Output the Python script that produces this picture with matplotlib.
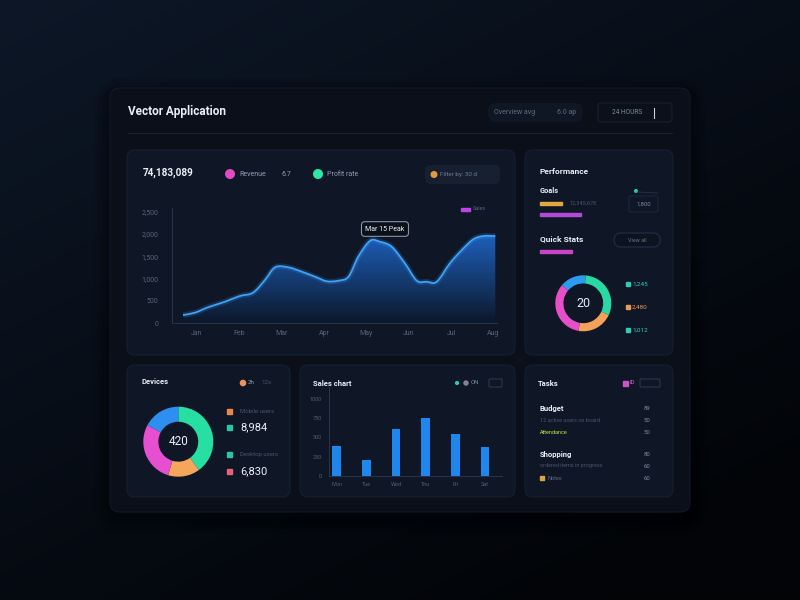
import numpy as np
import matplotlib
matplotlib.use("Agg")
import matplotlib.pyplot as plt
from matplotlib.patches import FancyBboxPatch, Rectangle, Circle, PathPatch
from matplotlib.path import Path

plt.rcParams['font.family'] = ['Roboto', 'DejaVu Sans']

# ---------------- data ----------------
area_x = [0.68, 0.96, 1.27, 1.67, 2.02, 2.33, 2.61, 2.85, 3.16, 3.48, 3.79, 4.07, 4.34,
          4.58, 4.81, 5.09, 5.32, 5.60, 5.91, 6.19, 6.42, 6.66, 6.97, 7.25, 7.52, 7.76, 8.04]
area_y = [186, 238, 359, 484, 612, 686, 971, 1256, 1256, 1157, 1045, 942, 955,
          1045, 1493, 1852, 1830, 1717, 1345, 955, 933, 933, 1345, 1643, 1883, 1957, 1957]
area_xticks = [1, 2, 3, 4, 5, 6, 7, 8]
area_xlabels = ['Jan', 'Feb', 'Mar', 'Apr', 'May', 'Jun', 'Jul', 'Aug']
area_yticks = [0, 500, 1000, 1500, 2000, 2500]
area_ylabels = ['0', '500', '1,000', '1,500', '2,000', '2,500']

bar_labels = ['Mon', 'Tue', 'Wed', 'Thu', 'Fri', 'Sat']
bar_values = [392, 207, 605, 755, 544, 380]
bar_yticks = [0, 250, 500, 750, 1000]

device_labels = ['Mobile', 'Tablet', 'Desktop', 'Other']
device_values = [144, 53, 101, 62]
device_colors = ['#27dfa2', '#f4a65a', '#e64fcf', '#2f8ff0']

stats_labels = ['A', 'B', 'C', 'D']
stats_values = [55, 110, 75, 120]
stats_colors = ['#2d9cf0', '#28d9a4', '#f4a259', '#e64fc8']

# ---------------- figure ----------------
W, H = 800, 600
fig = plt.figure(figsize=(8, 6), dpi=100)


def fr(x0, y0, x1, y1):
    return [x0 / W, 1 - y1 / H, (x1 - x0) / W, (y1 - y0) / H]


ov = fig.add_axes([0, 0, 1, 1])
ov.set_xlim(0, W)
ov.set_ylim(H, 0)
ov.axis('off')

# background gradient
yy, xx = np.mgrid[0:150, 0:200]
t = np.clip((0.55 * xx / 200 + 0.8 * yy / 150) / 1.2, 0, 1)
c1 = np.array([0x0d, 0x17, 0x27]) / 255
c2 = np.array([0x02, 0x04, 0x07]) / 255
img = c1[None, None, :] * (1 - t[..., None]) + c2[None, None, :] * t[..., None]
ov.imshow(img, extent=(0, W, H, 0), aspect='auto', zorder=0, interpolation='bilinear')

WHITE = '#e9eef6'
GREY = '#5d6b80'
DGREY = '#46536a'


def rbox(x0, y0, x1, y1, fc, ec='none', r=8, lw=0.8, z=2, alpha=1):
    p = FancyBboxPatch((x0, y0), x1 - x0, y1 - y0,
                       boxstyle=f'round,pad=0,rounding_size={r}',
                       fc=fc, ec=ec, lw=lw, zorder=z, alpha=alpha)
    ov.add_patch(p)
    return p


# panel shadow + panel
for i, a in enumerate([0.06, 0.08, 0.10, 0.12]):
    d = 16 - 4 * i
    rbox(110 - d, 88 - d + 6, 690 + d, 512 + d + 6, '#000000', r=12 + d, z=1, alpha=a)
rbox(110, 88, 690, 512, '#0a0f19', ec='#111927', r=10, z=1.5)

# header
ov.text(128, 112, 'Vector Application', color=WHITE, fontsize=8.5, fontweight='bold',
        va='center', ha='left', zorder=5)
ov.plot([128, 672], [133, 133], color='#19212f', lw=0.8, zorder=3)
rbox(488, 103, 583, 122, '#0f1624', r=8, z=3)
ov.text(494, 113, 'Overview avg', color=GREY, fontsize=5, va='center', zorder=5)
ov.text(557, 113, '6.0 ap', color=GREY, fontsize=5, va='center', zorder=5)
rbox(598, 103, 672, 122, '#0b111b', ec='#18202e', r=3, z=3)
ov.text(612, 113, '24 HOURS', color='#7d899b', fontsize=4.8, va='center', zorder=5)
ov.plot([654, 654], [108, 118], color='#c8d0dc', lw=0.8, zorder=5)

# cards
CARD = '#0f1727'
CEDGE = '#152031'
for (x0, y0, x1, y1) in [(127, 150, 515, 355), (525, 150, 673, 355), (127, 365, 290, 497),
                         (300, 365, 515, 497), (525, 365, 673, 497)]:
    rbox(x0, y0, x1, y1, CARD, ec=CEDGE, r=8, z=2)

# ---------------- card 1 : area chart ----------------
ov.text(143, 173, '74,183,089', color=WHITE, fontsize=7.2, fontweight='bold', va='center', zorder=5)
ov.add_patch(Circle((230, 174), 4.3, color='#e04ac2', zorder=5))
ov.text(239, 174, 'Revenue', color='#8f9bb0', fontsize=5, va='center', zorder=5)
ov.text(281, 174, '6.7', color='#8f9bb0', fontsize=5, va='center', zorder=5)
ov.add_patch(Circle((318, 174), 4.3, color='#2ee6a6', zorder=5))
ov.text(327, 174, 'Profit rate', color='#8f9bb0', fontsize=5, va='center', zorder=5)
rbox(425, 165, 500, 184, '#162031', r=5, z=3)
ov.add_patch(Circle((434, 174.5), 2.8, color='#e49a3c', zorder=5))
ov.text(440, 174.5, 'Filter by: 30 d', color='#6f7c90', fontsize=4.5, va='center', zorder=5)
ov.add_patch(Rectangle((461, 207.5), 9, 3, color='#c043e6', zorder=5))
ov.text(473, 209, 'Sales', color='#55627a', fontsize=4, va='center', zorder=5)

ax1 = fig.add_axes(fr(172, 208, 497, 323.3))
ax1.set_facecolor('none')
ax1.set_xlim(0.42, 8.08)
ax1.set_ylim(0, 2585)

# smooth path through the data points (Catmull-Rom rendered as cubic Bezier)
P = np.column_stack([area_x, area_y]).astype(float)
Pe = np.vstack([P[0], P, P[-1]])
verts = [tuple(P[0])]
codes = [Path.MOVETO]
for i in range(len(P) - 1):
    p0, p1, p2, p3 = Pe[i], Pe[i + 1], Pe[i + 2], Pe[i + 3]
    verts += [tuple(p1 + (p2 - p0) / 6), tuple(p2 - (p3 - p1) / 6), tuple(p2)]
    codes += [Path.CURVE4] * 3
line_path = Path(verts, codes)
fill_path = Path(verts + [(area_x[-1], 0), (area_x[0], 0), tuple(P[0])],
                 codes + [Path.LINETO, Path.LINETO, Path.CLOSEPOLY])
clip = PathPatch(fill_path, fc='none', ec='none', transform=ax1.transData)
ax1.add_patch(clip)
g = np.linspace(0, 1, 200)[:, None]
top = np.array([0x1e, 0x61, 0xbe]) / 255
bot = np.array([0x0c, 0x17, 0x2a]) / 255
grad = bot[None, None, :] * (1 - g[..., None]) + top[None, None, :] * g[..., None]
grad = np.repeat(grad, 2, axis=1)
im = ax1.imshow(grad, extent=(area_x[0], area_x[-1], 0, 2000), origin='lower',
                aspect='auto', zorder=1, interpolation='bilinear')
im.set_clip_path(clip)
ax1.add_patch(PathPatch(line_path, fc='none', ec='#3d9ff5', lw=4, alpha=0.18, zorder=2))
ax1.add_patch(PathPatch(line_path, fc='none', ec='#3fa2f6', lw=1.3, zorder=3))
ax1.set_xticks(area_xticks)
ax1.set_xticklabels(area_xlabels)
ax1.set_yticks(area_yticks)
ax1.set_yticklabels(area_ylabels)
ax1.tick_params(length=0, labelsize=5, colors='#56637a')
ax1.tick_params(axis='y', pad=10)
ax1.tick_params(axis='x', pad=5)
for s in ['top', 'right']:
    ax1.spines[s].set_visible(False)
for s in ['left', 'bottom']:
    ax1.spines[s].set_color('#27334a')
    ax1.spines[s].set_linewidth(0.8)
ax1.text(5.44, 2114, 'Mar 15 Peak', color=WHITE, fontsize=5, ha='center', va='center',
         zorder=6, bbox=dict(boxstyle='round,pad=0.55,rounding_size=0.5', fc='#0b111b',
                             ec='#8a94a6', lw=0.8))

# ---------------- card 2 : performance ----------------
ov.text(540, 172, 'Performance', color=WHITE, fontsize=6, fontweight='bold', va='center', zorder=5)
ov.text(540, 191, 'Goals', color=WHITE, fontsize=5.3, fontweight='bold', va='center', zorder=5)
ov.add_patch(Rectangle((540, 202), 22, 3, color='#e2aa3e', zorder=5))
ov.text(569, 203.5, '12,345,678', color=DGREY, fontsize=4, va='center', zorder=5)
ov.add_patch(Rectangle((540, 213), 41, 3, color='#b24ad8', zorder=5))
ov.add_patch(Circle((636, 191), 1.3, color='#2fc9b0', zorder=5))
ov.plot([637, 658], [192, 193], color='#26324a', lw=0.6, zorder=5)
rbox(629, 196, 658, 212, 'none', ec='#1d2738', r=2, z=4)
ov.text(643.5, 204, '1,800', color='#7d899b', fontsize=4.3, ha='center', va='center', zorder=5)
ov.text(540, 239, 'Quick Stats', color=WHITE, fontsize=6, fontweight='bold', va='center', zorder=5)
rbox(614, 233, 660, 247, '#0c1420', ec='#22304a', r=7, z=4)
ov.text(637, 240, 'View all', color='#5e6f8a', fontsize=4, ha='center', va='center', zorder=5)
ov.add_patch(Rectangle((540, 249.5), 32, 3, color='#c845c8', zorder=5))

ax2 = fig.add_axes(fr(583.3 - 28, 303.3 - 28, 583.3 + 28, 303.3 + 28))
ax2.pie(stats_values, colors=stats_colors, startangle=140, counterclock=False,
        wedgeprops=dict(width=0.29, edgecolor='none'))
ax2.set_xlim(-1, 1)
ax2.set_ylim(-1, 1)
ax2.set_aspect('equal')
ax2.axis('off')
ax2.text(0, 0, '20', color=WHITE, fontsize=9, ha='center', va='center')

for (yv, col, lab) in [(284, '#35c9b2', '1,245'), (307, '#e99a55', '2,480'), (330, '#35c9b2', '1,012')]:
    ov.add_patch(Rectangle((625.5, yv - 2), 4, 4, color=col, zorder=5))
    ov.text(632, yv, lab, color=col, fontsize=4.6, va='center', zorder=5)

# ---------------- card 3 : devices donut ----------------
ov.text(141, 382, 'Devices', color=WHITE, fontsize=5.5, fontweight='bold', va='center', zorder=5)
ov.add_patch(Circle((243, 383), 2.6, color='#f0905a', zorder=5))
ov.text(248, 383, '2h', color='#8f9bb0', fontsize=4.5, va='center', zorder=5)
ov.text(262, 383, '12s', color=DGREY, fontsize=4.5, va='center', zorder=5)

ax3 = fig.add_axes(fr(178.3 - 35, 441.7 - 35, 178.3 + 35, 441.7 + 35))
ax3.pie(device_values, colors=device_colors, startangle=90, counterclock=False,
        wedgeprops=dict(width=0.43, edgecolor='none'))
ax3.set_xlim(-1, 1)
ax3.set_ylim(-1, 1)
ax3.set_aspect('equal')
ax3.axis('off')
ax3.text(0, 0, '420', color=WHITE, fontsize=8.5, ha='center', va='center')

ov.add_patch(Rectangle((226.5, 409.2), 5, 5, color='#e8894a', zorder=5))
ov.text(240, 411.7, 'Mobile users', color=DGREY, fontsize=4.3, va='center', zorder=5)
ov.add_patch(Rectangle((226.5, 424.8), 5, 5, color='#2ec4a0', zorder=5))
ov.text(240, 427.5, '8,984', color=WHITE, fontsize=8, va='center', zorder=5)
ov.add_patch(Rectangle((226.5, 451.8), 5, 5, color='#2ec4a0', zorder=5))
ov.text(240, 454.3, 'Desktop users', color=DGREY, fontsize=4.3, va='center', zorder=5)
ov.add_patch(Rectangle((226.5, 468.5), 5, 5, color='#e8607e', zorder=5))
ov.text(240, 471.2, '6,830', color=WHITE, fontsize=8, va='center', zorder=5)

# ---------------- card 4 : bar chart ----------------
ov.text(313, 383, 'Sales chart', color=WHITE, fontsize=5.5, fontweight='bold', va='center', zorder=5)
ov.add_patch(Circle((457, 383), 1.4, color='#2fc9b0', zorder=5))
ov.add_patch(Circle((466, 383), 2.0, color='#8a7f99', zorder=5))
ov.text(471, 383, 'ON', color='#7d899b', fontsize=4.3, va='center', zorder=5)
rbox(489, 379, 502, 387, 'none', ec='#344055', r=1, z=4, lw=0.6)

ax4 = fig.add_axes(fr(329, 386.7, 501.7, 476))
ax4.set_facecolor('none')
xb = np.arange(len(bar_values))
ax4.bar(xb, bar_values, width=0.29, color='#1f86ee', zorder=3)
ax4.set_xlim(-0.26, 5.56)
ax4.set_ylim(0, 1157)
ax4.set_xticks(xb)
ax4.set_xticklabels(bar_labels)
ax4.set_yticks(bar_yticks)
ax4.tick_params(length=0, labelsize=4, colors='#4f5d72')
ax4.tick_params(axis='y', pad=5)
ax4.tick_params(axis='x', pad=4)
for s in ['top', 'right']:
    ax4.spines[s].set_visible(False)
for s in ['left', 'bottom']:
    ax4.spines[s].set_color('#27334a')
    ax4.spines[s].set_linewidth(0.8)

# ---------------- card 5 : tasks ----------------
ov.text(538, 383, 'Tasks', color=WHITE, fontsize=5.5, fontweight='bold', va='center', zorder=5)
ov.add_patch(Rectangle((623, 381), 4.5, 4.5, color='#d050c8', zorder=5))
ov.text(630, 383, 'ID', color='#c07ac0', fontsize=4.3, va='center', zorder=5)
rbox(640, 379, 660, 387, 'none', ec='#344055', r=1, z=4, lw=0.6)

rows = [
    (408.3, 'Budget', WHITE, 5.5, 'bold', '89'),
    (421.0, '12 active users on board', DGREY, 4, 'normal', '50'),
    (432.7, 'Attendance', '#c6df48', 4, 'normal', '50'),
    (454.3, 'Shopping', WHITE, 5.5, 'bold', '80'),
    (466.0, 'ordered items in progress', DGREY, 4, 'normal', '60'),
]
for (yv, lab, col, fs, fw, val) in rows:
    ov.text(540, yv, lab, color=col, fontsize=fs, fontweight=fw, va='center', zorder=5)
    ov.text(647, yv, val, color='#7d899b', fontsize=4.3, ha='center', va='center', zorder=5)
ov.add_patch(Rectangle((540, 476.3), 4, 4, color='#e0a040', zorder=5))
ov.text(547, 478.3, 'Notes', color=GREY, fontsize=4, va='center', zorder=5)
ov.text(647, 478.3, '60', color='#7d899b', fontsize=4.3, ha='center', va='center', zorder=5)

fig.savefig('out.png', dpi=100)
